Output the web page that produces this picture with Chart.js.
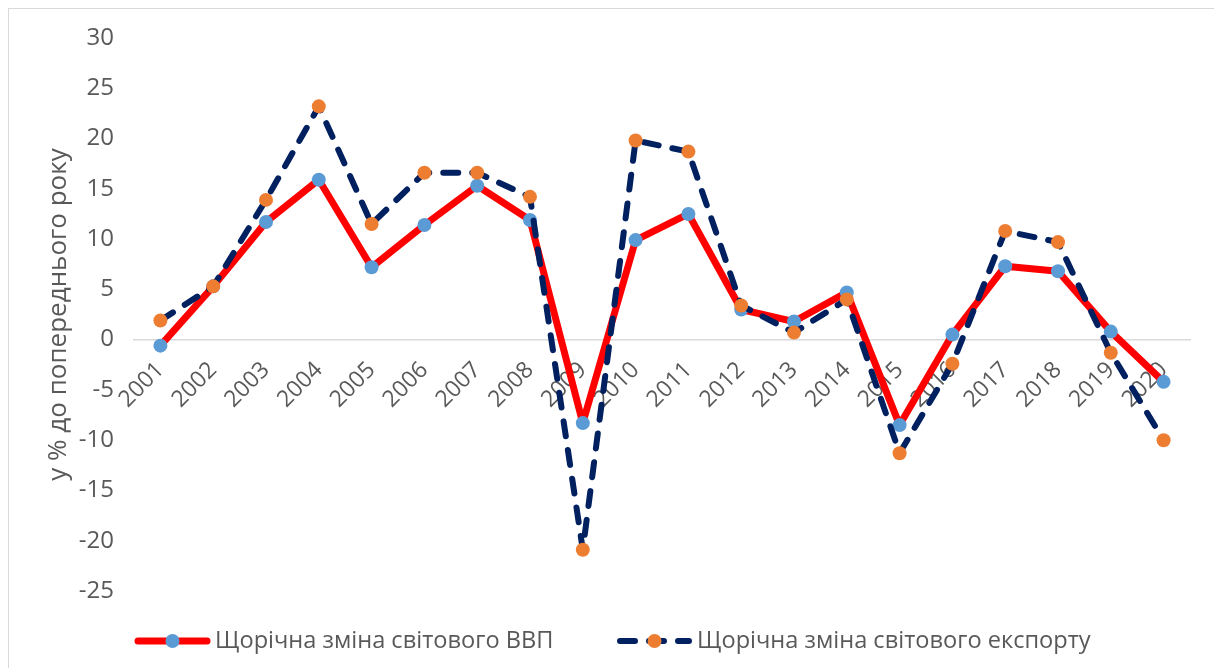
<!DOCTYPE html>
<html>
<head>
<meta charset="utf-8">
<script src="https://cdn.jsdelivr.net/npm/chart.js@4.4.1/dist/chart.umd.min.js"></script>
<style>
    html, body { margin: 0; padding: 0; background: #fff; overflow: hidden; }
    #frame { position: absolute; left: 8px; top: 8px; width: 1300px; height: 800px; border: 1px solid #d9d9d9; }
    #wrap { position: absolute; left: 0; top: 0; width: 1214px; height: 668px; }
</style>
</head>
<body>
<div id="frame"></div>
<div id="wrap"><canvas id="chart"></canvas></div>
<script>
// Years on the category axis
const years = ['2001', '2002', '2003', '2004', '2005', '2006', '2007', '2008', '2009', '2010',
               '2011', '2012', '2013', '2014', '2015', '2016', '2017', '2018', '2019', '2020'];

// Annual change of world GDP, % to previous year
const gdpChange = [-0.6, 5.3, 11.7, 15.9, 7.2, 11.4, 15.3, 11.9, -8.3, 9.9,
                   12.5, 3.0, 1.8, 4.7, -8.5, 0.5, 7.3, 6.8, 0.8, -4.2];

// Annual change of world exports, % to previous year
const exportChange = [1.9, 5.3, 13.9, 23.2, 11.5, 16.6, 16.6, 14.2, -20.9, 19.8,
                      18.7, 3.4, 0.7, 4.0, -11.3, -2.4, 10.8, 9.7, -1.3, -10.0];

const seriesNames = ['Щорічна зміна світового ВВП', 'Щорічна зміна світового експорту'];
const axisTitle = 'у % до попереднього року';

const FONT = '"Open Sans", Roboto, sans-serif';
const TEXT_COLOR = '#595959';

// Legend drawn by hand so it sits where the original one does
const legendPlugin = {
    id: 'bottomLegend',
    afterDraw(chart) {
        const ctx = chart.ctx;
        const y = 641;
        const slots = [{ x: 135, w: 75 }, { x: 617, w: 75 }];
        chart.data.datasets.forEach((ds, i) => {
            const s = slots[i];
            ctx.save();
            ctx.strokeStyle = ds.borderColor;
            ctx.lineWidth = ds.borderWidth;
            ctx.lineCap = 'round';
            ctx.setLineDash(ds.borderDash || []);
            ctx.beginPath();
            ctx.moveTo(s.x + 3, y);
            ctx.lineTo(s.x + s.w - 3, y);
            ctx.stroke();
            ctx.setLineDash([]);
            ctx.fillStyle = ds.pointBackgroundColor;
            ctx.beginPath();
            ctx.arc(s.x + s.w / 2, y, ds.pointRadius, 0, Math.PI * 2);
            ctx.fill();
            ctx.fillStyle = TEXT_COLOR;
            ctx.font = '23.6px ' + FONT;
            ctx.textBaseline = 'middle';
            ctx.textAlign = 'left';
            ctx.fillText(ds.label, s.x + s.w + 5, y);
            ctx.restore();
        });
    }
};

const ctx = document.getElementById('chart').getContext('2d');
new Chart(ctx, {
    type: 'line',
    data: {
        labels: years,
        datasets: [
            {
                label: seriesNames[0],
                data: gdpChange,
                borderColor: '#ff0000',
                borderWidth: 7,
                borderJoinStyle: 'round',
                pointBackgroundColor: '#5b9bd5',
                pointBorderColor: '#5b9bd5',
                pointBorderWidth: 0,
                pointRadius: 7,
                tension: 0,
                order: 1
            },
            {
                label: seriesNames[1],
                data: exportChange,
                borderColor: '#002060',
                borderWidth: 6,
                borderDash: [15, 14],
                borderCapStyle: 'round',
                borderJoinStyle: 'round',
                pointBackgroundColor: '#ed7d31',
                pointBorderColor: '#ed7d31',
                pointBorderWidth: 0,
                pointRadius: 7,
                tension: 0,
                order: 0
            }
        ]
    },
    options: {
        responsive: true,
        maintainAspectRatio: false,
        animation: false,
        layout: { padding: { left: 0, right: 24, top: 38, bottom: 77 } },
        plugins: {
            legend: { display: false },
            tooltip: { enabled: false }
        },
        scales: {
            x: {
                type: 'category',
                position: { y: 0 },
                offset: true,
                grid: { display: false, drawTicks: false },
                border: { display: true, color: '#d9d9d9', width: 1.5 },
                ticks: {
                    autoSkip: false,
                    minRotation: 45,
                    maxRotation: 45,
                    padding: 17,
                    color: TEXT_COLOR,
                    font: { family: FONT, size: 23 }
                }
            },
            y: {
                min: -25,
                max: 30,
                grid: { display: false, drawTicks: false },
                border: { display: false },
                ticks: {
                    stepSize: 5,
                    padding: 20,
                    color: TEXT_COLOR,
                    font: { family: FONT, size: 24 }
                },
                title: {
                    display: true,
                    text: axisTitle,
                    color: TEXT_COLOR,
                    font: { family: FONT, size: 26 },
                    padding: { top: 43, bottom: 0 }
                },
                afterFit(scale) { scale.width = 134; }
            }
        }
    },
    plugins: [legendPlugin]
});
</script>
</body>
</html>
